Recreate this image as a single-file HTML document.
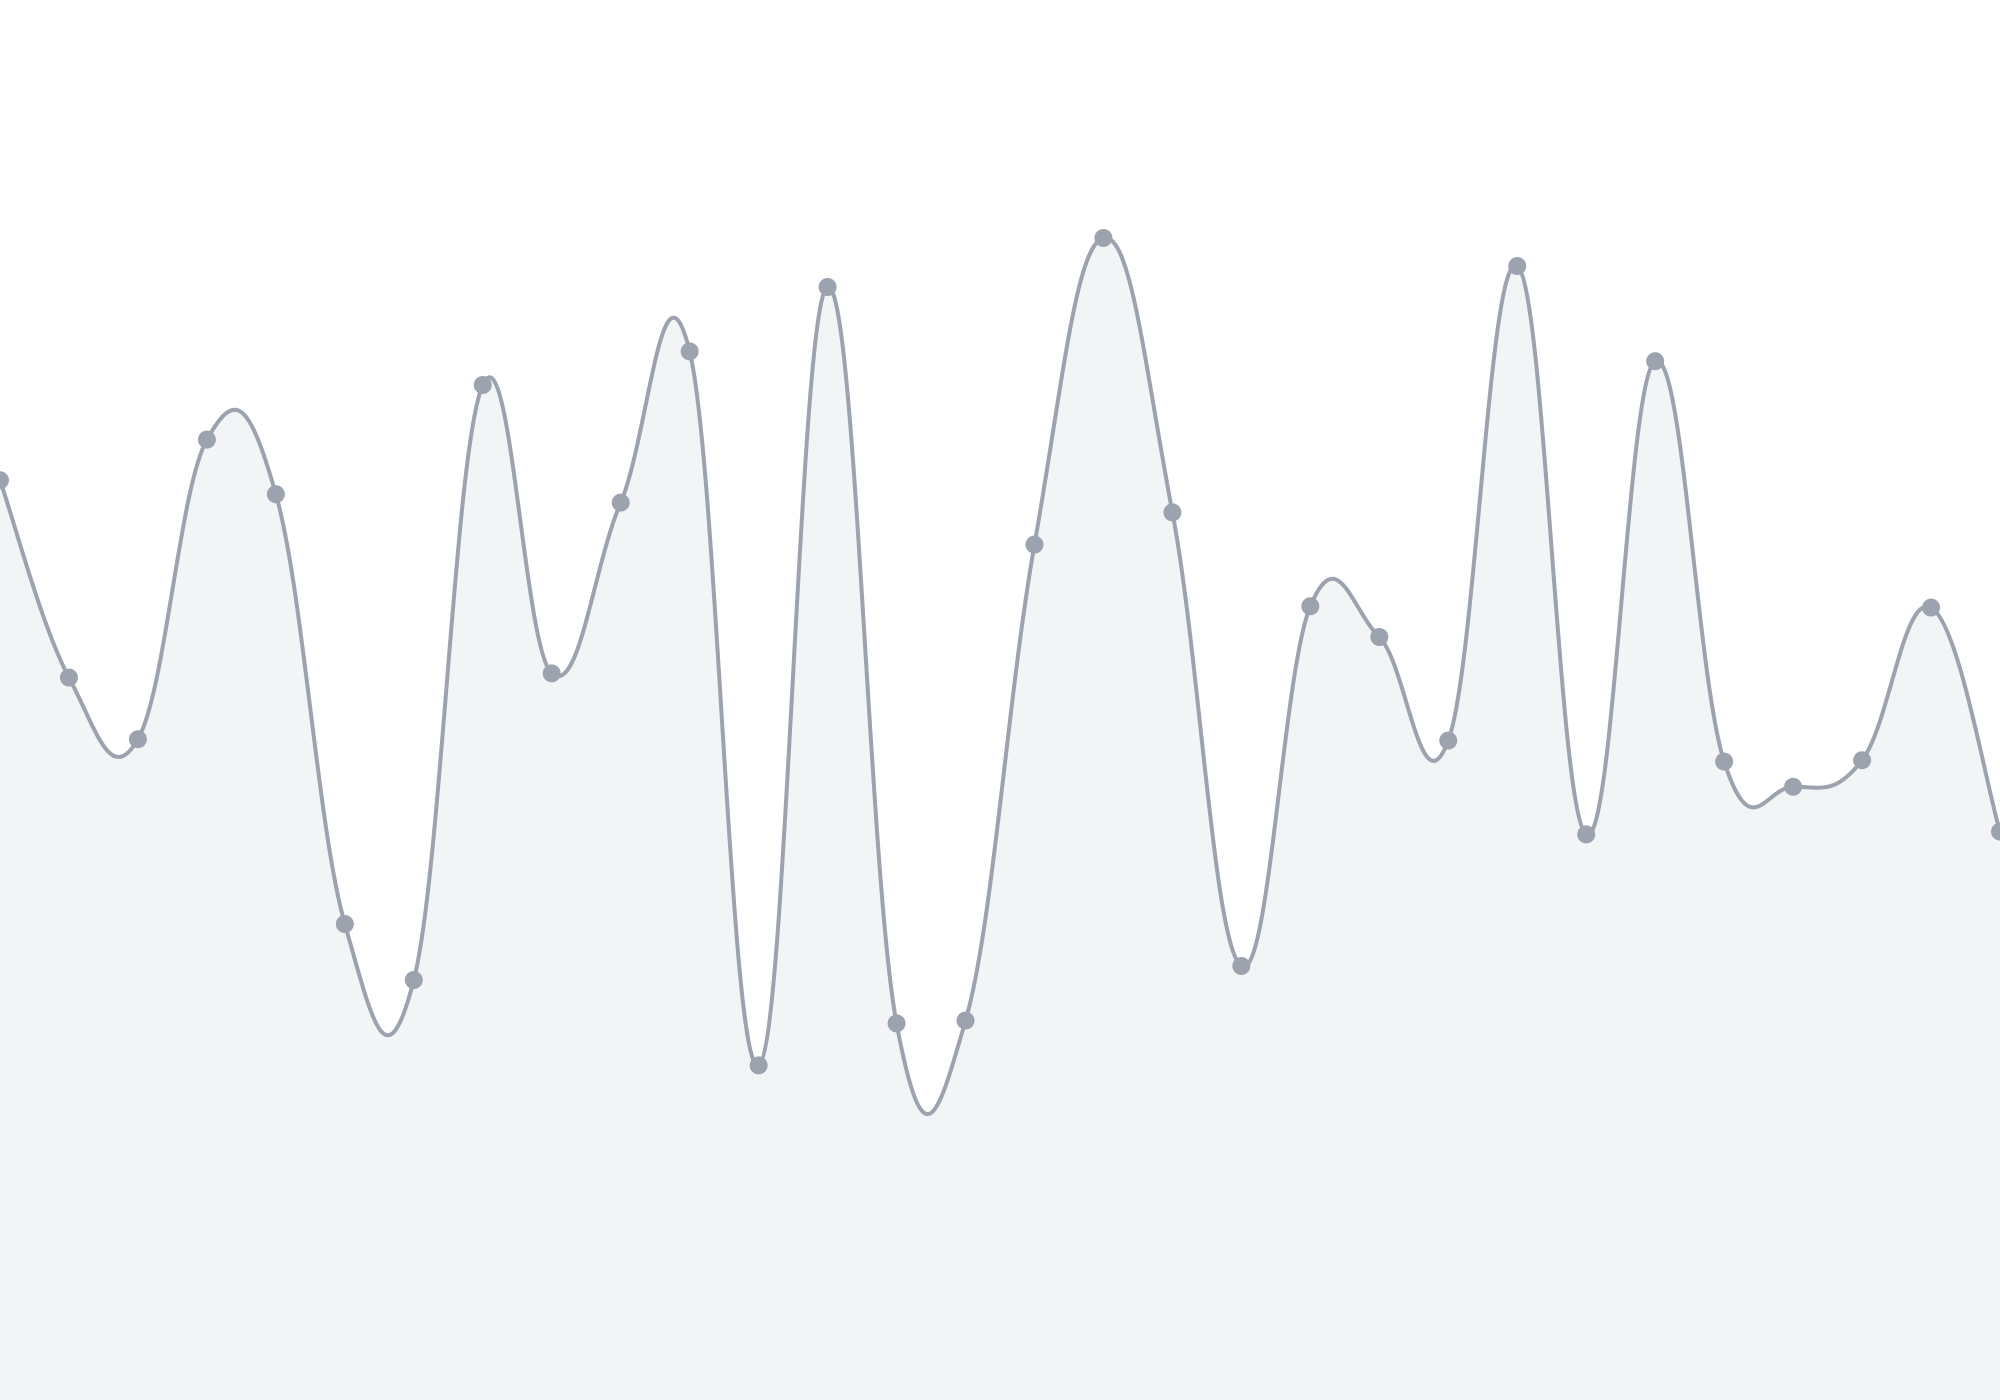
<!DOCTYPE html>
<html><head><meta charset="utf-8"><style>html,body{margin:0;padding:0;background:#fff;width:2000px;height:1400px;overflow:hidden}</style></head>
<body>
<svg id="chart" width="2000" height="1400" viewBox="0 0 2000 1400" xmlns="http://www.w3.org/2000/svg">
<path id="area" fill="#f3f4f6"/>
<path id="line" fill="none" stroke="#9ca3af" stroke-width="4"/>
<g id="dots"></g>
</svg>
<script>
const categories = Array.from({length:30},(_,i)=>i);
const values = [65.7,51.6,47.2,68.6,64.7,34.0,30.0,72.5,51.9,64.1,74.9,23.9,79.5,26.9,27.1,61.1,83.0,63.4,31.0,56.7,54.5,47.1,81.0,40.4,74.2,45.6,43.8,45.7,56.6,40.6];
const W=2000,H=1400;
function xScale(i){return i*W/(categories.length-1);}
function yScale(v){return H*(1-v/100);}
const xs=categories.map(xScale), ys=values.map(yScale);
const n=xs.length;
const k=0.2;
function P(i){i=Math.max(0,Math.min(n-1,i));return [xs[i],ys[i]];}
let d=`M${xs[0]},${ys[0]}`;
for(let i=0;i<n-1;i++){
  const p0=P(i-1),p1=P(i),p2=P(i+1),p3=P(i+2);
  const c1=[p1[0]+(p2[0]-p0[0])*k,p1[1]+(p2[1]-p0[1])*k];
  const c2=[p2[0]-(p3[0]-p1[0])*k,p2[1]-(p3[1]-p1[1])*k];
  d+=`C${c1[0]},${c1[1]} ${c2[0]},${c2[1]} ${p2[0]},${p2[1]}`;
}
document.getElementById('line').setAttribute('d',d);
document.getElementById('area').setAttribute('d',d+`L${W},${H}L0,${H}Z`);
const g=document.getElementById('dots');
values.forEach((v,i)=>{const c=document.createElementNS('http://www.w3.org/2000/svg','circle');
c.setAttribute('cx',xScale(i));c.setAttribute('cy',yScale(v));c.setAttribute('r',9);c.setAttribute('fill','#9ca3af');


g.appendChild(c);});
</script>
</body></html>
